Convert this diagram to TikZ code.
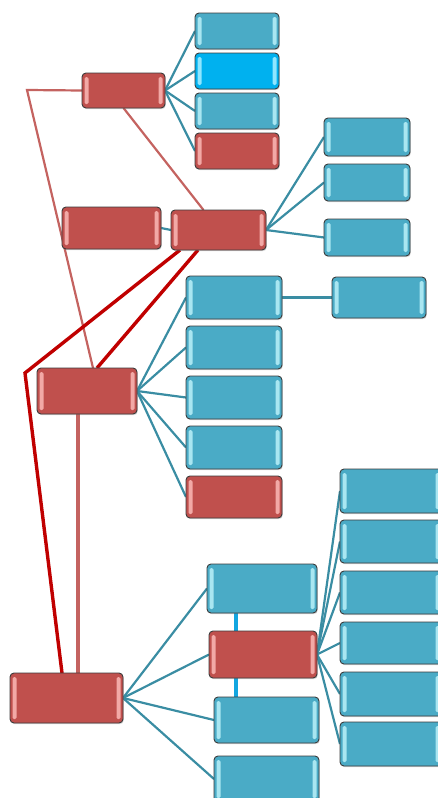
\documentclass[tikz,border=0pt]{standalone}
\usetikzlibrary{shadows,backgrounds,calc}

\definecolor{cardblue}{HTML}{4AABC6}
\definecolor{barblue}{HTML}{A9E6F1}
\definecolor{cardcyan}{HTML}{00B1EF}
\definecolor{barcyan}{HTML}{8FE6FF}
\definecolor{cardred}{HTML}{C0504D}
\definecolor{barred}{HTML}{F2A9A6}
\definecolor{cardline}{HTML}{3C3C3C}
\definecolor{tealwire}{HTML}{3A8DA3}
\definecolor{rosewire}{HTML}{C46360}
\definecolor{darkwire}{HTML}{C00000}
\definecolor{skywire}{HTML}{12A6E0}

\tikzset{
  card/.style={rectangle, rounded corners=4pt, draw=cardline, line width=0.9pt,
    inner sep=0pt, outer sep=0pt,
    drop shadow={shadow xshift=0.8pt, shadow yshift=-1.2pt, opacity=0.3},
    path picture={
      \fill[#1, rounded corners=1.5pt]
        ([xshift=2.5pt,yshift=-4pt]path picture bounding box.north west) rectangle
        ([xshift=6.5pt,yshift=4pt]path picture bounding box.south west);
      \fill[#1, rounded corners=1.5pt]
        ([xshift=-2.5pt,yshift=-4pt]path picture bounding box.north east) rectangle
        ([xshift=-6.5pt,yshift=4pt]path picture bounding box.south east);
    }},
  bluecard/.style={card=barblue, fill=cardblue},
  cyancard/.style={card=barcyan, fill=cardcyan},
  redcard/.style={card=barred, fill=cardred},
  teal/.style={draw=tealwire, line width=2.2pt},
  rose/.style={draw=rosewire, line width=2.2pt},
  rosewide/.style={draw=rosewire, line width=3.4pt},
  darkred/.style={draw=darkwire, line width=3.4pt, line join=miter},
  sky/.style={draw=skywire, line width=3.6pt}
}

% \card{name}{left}{top}{right}{bottom}{style}
\newcommand\card[6]{%
  \node[#6, minimum width={(#4-#2)*1pt}, minimum height={(#5-#3)*1pt}]
    (#1) at ({(#2+#4)/2},{(#3+#5)/2}) {};}

\begin{document}
\begin{tikzpicture}[x=1pt, y=-1pt]
\useasboundingbox (0,0) rectangle (438,798);
\clip (0,0) rectangle (438,798);

% top branch
\card{R1}{82}{73}{165}{108}{redcard}
\card{B1a}{195}{13}{279}{49}{bluecard}
\card{B1b}{195}{53}{279}{89}{cyancard}
\card{B1c}{195}{93}{279}{129}{bluecard}
\card{R1d}{195}{133}{279}{169}{redcard}

% second branch
\card{R2a}{62}{207}{161}{249}{redcard}
\card{R2}{171}{210}{266}{250}{redcard}
\card{B2a}{324}{118}{410}{156}{bluecard}
\card{B2b}{324}{164}{410}{201}{bluecard}
\card{B2c}{324}{219}{410}{256}{bluecard}

% third branch
\card{R3}{37}{368}{137}{414}{redcard}
\card{B3a}{186}{276}{282}{319}{bluecard}
\card{B3x}{332}{277}{426}{318}{bluecard}
\card{B3b}{186}{326}{282}{369}{bluecard}
\card{B3c}{186}{376}{282}{419}{bluecard}
\card{B3d}{186}{426}{282}{469}{bluecard}
\card{R3e}{186}{476}{282}{518}{redcard}

% bottom branch
\card{R4}{10}{673}{123}{723}{redcard}
\card{B4a}{207}{564}{317}{613}{bluecard}
\card{R4b}{209}{631}{317}{678}{redcard}
\card{B4c}{214}{697}{319}{743}{bluecard}
\card{B4d}{214}{756}{319}{802}{bluecard}
\card{C1}{340}{469}{442}{513}{bluecard}
\card{C2}{340}{520}{442}{563}{bluecard}
\card{C3}{340}{571}{442}{614}{bluecard}
\card{C4}{340}{622}{442}{664}{bluecard}
\card{C5}{340}{672}{442}{716}{bluecard}
\card{C6}{340}{722}{442}{766}{bluecard}

\coordinate (k1) at (27,90);
\coordinate (k2) at (25,373);

\begin{scope}[on background layer]
  % fans of teal links
  \foreach \t in {B1a,B1b,B1c,R1d} \draw[teal] (R1.east) -- (\t.west);
  \foreach \t in {B2a,B2b,B2c} \draw[teal] (R2.east) -- (\t.west);
  \foreach \t in {B3a,B3b,B3c,B3d,R3e} \draw[teal] (R3.east) -- (\t.west);
  \foreach \t in {B4a,R4b,B4c,B4d} \draw[teal] (R4.east) -- (\t.west);
  \foreach \t in {C1,C2,C3,C4,C5,C6} \draw[teal] (R4b.east) -- (\t.west);
  \draw[teal] (R2a.east) -- (R2.west);
  \draw[teal] (B3a.east) -- (B3x.west);

  % vertical sky links in the bottom stack
  \draw[sky] ([xshift=-26pt]B4a.south) -- ([xshift=-26pt]B4a.south |- R4b.north);
  \draw[sky] ([xshift=-26pt]B4a.south |- R4b.south) -- ([xshift=-26pt]B4a.south |- B4c.north);

  % light red links
  \draw[rose] (R1.west) -- (k1) -- ([xshift=6pt]R3.north);
  \draw[rose] (R1.south) -- ([xshift=-15pt]R2.north);
  \draw[rosewide] ([xshift=-9pt]R3.south) -- ([xshift=-9pt]R3.south |- R4.north);

  % dark red links
  \draw[darkred] ([xshift=-38.5pt]R2.south) -- (k2) -- ([xshift=-4.5pt]R4.north);
  \draw[darkred] ([xshift=-20.5pt]R2.south) -- ([xshift=10pt]R3.north);
\end{scope}
\end{tikzpicture}
\end{document}
